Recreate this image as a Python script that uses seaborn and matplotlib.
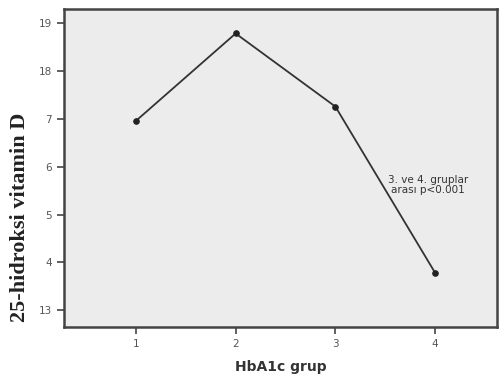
import matplotlib
matplotlib.use("Agg")
import matplotlib.pyplot as plt
import seaborn as sns
import pandas as pd

groups = [1, 2, 3, 4]
vitamin_d = [16.96, 18.79, 17.26, 13.78]
ytick_values = [13, 14, 15, 16, 17, 18, 19]
ytick_labels = ["13", "4", "5", "6", "7", "18", "19"]
annotation = "3. ve 4. gruplar\narası p<0.001"

df = pd.DataFrame({"grup": groups, "vitd": vitamin_d})

sns.set_style("white")
plt.rcParams['font.family'] = ['DejaVu Sans']

fig = plt.figure(figsize=(5.03, 3.80), dpi=100)
ax = fig.add_axes([0.127, 0.140, 0.861, 0.836])
ax.set_facecolor("#ececec")

sns.lineplot(data=df, x="grup", y="vitd", ax=ax, color="#333333", linewidth=1.3,
             marker="o", markersize=4, markeredgecolor="#222222", markerfacecolor="#222222")

ax.set_xlim(0.278, 4.62)
ax.set_ylim(12.65, 19.30)
ax.set_xticks(groups)
ax.set_xticklabels([str(g) for g in groups])
ax.set_yticks(ytick_values)
ax.set_yticklabels(ytick_labels)

ax.tick_params(axis="both", which="both", length=5, width=1.2, color="#444444",
               labelsize=7.5, labelcolor="#555555", direction="out", bottom=True, left=True)
for s in ax.spines.values():
    s.set_color("#444444")
    s.set_linewidth(1.8)

ax.set_xlabel("HbA1c grup", fontsize=10, fontweight="bold", color="#333333", labelpad=8)
ax.set_ylabel("25-hidroksi vitamin D", fontsize=16, fontweight="bold", color="#222222",
              family=["Liberation Serif"])
ax.yaxis.set_label_coords(-0.078, 0.345)

ax.text(3.93, 15.62, annotation, ha="center", va="center", fontsize=7.5, color="#333333",
        linespacing=1.1)

fig.savefig("out.png", dpi=100)
